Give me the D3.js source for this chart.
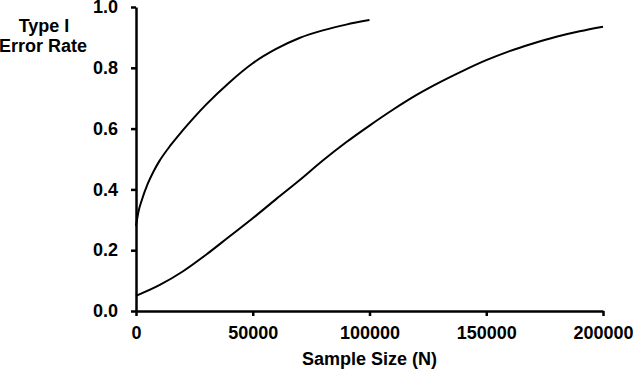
<!DOCTYPE html>
<html>
<head>
<meta charset="utf-8">
<script src="https://cdn.jsdelivr.net/npm/d3@7"></script>
<style>
  body { margin: 0; background: #fff; }
  text { font-family: "Liberation Sans", Arial, sans-serif; font-weight: bold; }
</style>
</head>
<body>
<svg width="633" height="370"></svg>
<script>
// values
const xTicks = [0, 50000, 100000, 150000, 200000]
const yTicks = [0, 0.2, 0.4, 0.6, 0.8, 1.0]

const curveAN = [0, 1000, 2500, 5000, 7500, 10000, 15000, 20000, 25000, 30000, 40000,
                 50000, 60000, 70000, 80000, 90000, 100000]
const curveAY = [0.28, 0.325, 0.365, 0.418, 0.459, 0.493, 0.547, 0.594, 0.638, 0.679, 0.752,
                 0.815, 0.862, 0.898, 0.923, 0.942, 0.957]

const curveBN = [0, 10000, 20000, 30000, 40000, 50000, 60000, 70000, 80000, 90000, 100000,
                 110000, 120000, 130000, 140000, 150000, 160000, 170000, 180000, 190000, 200000]
const curveBY = [0.05, 0.085, 0.13, 0.185, 0.245, 0.305, 0.368, 0.43, 0.495, 0.555, 0.61,
                 0.662, 0.71, 0.752, 0.79, 0.825, 0.855, 0.88, 0.902, 0.92, 0.935]

const svg = d3.select('svg')

const margin = { top: 7, right: 30, bottom: 59, left: 136 }
const width = +svg.attr('width')
const height = +svg.attr('height')
const innerWidth = 603 - margin.left
const innerHeight = height - margin.top - margin.bottom

const xScale = d3.scaleLinear().domain([0, 200000]).range([0, innerWidth])
const yScale = d3.scaleLinear().domain([0, 1]).range([innerHeight, 0])

const g = svg.append('g')
    .attr('transform', `translate(${margin.left}, ${margin.top})`)

const yAxis = g.append('g')
    .call(d3.axisLeft(yScale).tickValues(yTicks).tickFormat(d3.format('.1f'))
        .tickSize(5).tickSizeOuter(0).tickPadding(13))
const xAxis = g.append('g')
    .attr('transform', `translate(0, ${innerHeight})`)
    .call(d3.axisBottom(xScale).tickValues(xTicks).tickFormat(d3.format('d'))
        .tickSize(5).tickSizeOuter(0).tickPadding(10))

;[xAxis, yAxis].forEach(a => {
    a.select('.domain').attr('stroke', '#000').attr('stroke-width', 2.5)
    a.selectAll('.tick line').attr('stroke', '#000').attr('stroke-width', 2.5)
    a.selectAll('.tick text').attr('fill', '#000')
        .style('font-size', '18px').style('font-family', '"Liberation Sans", Arial, sans-serif')
        .style('font-weight', 'bold')
})

const line = d3.line()
    .x(d => xScale(d[0]))
    .y(d => yScale(d[1]))
    .curve(d3.curveMonotoneX)

const series = [
    d3.zip(curveAN, curveAY),
    d3.zip(curveBN, curveBY)
]

g.selectAll('path.curve').data(series)
    .enter().append('path')
        .attr('class', 'curve')
        .attr('d', line)
        .attr('fill', 'none')
        .attr('stroke', '#000')
        .attr('stroke-width', 2)

svg.append('text')
    .attr('x', margin.left + innerWidth / 2)
    .attr('y', 365)
    .attr('text-anchor', 'middle')
    .style('font-size', '18px')
    .text('Sample Size (N)')

const yTitle = svg.append('text')
    .attr('text-anchor', 'middle')
    .style('font-size', '18px')
yTitle.append('tspan').attr('x', 44).attr('y', 32).text('Type I')
yTitle.append('tspan').attr('x', 43).attr('y', 52).text('Error Rate')
</script>
</body>
</html>
